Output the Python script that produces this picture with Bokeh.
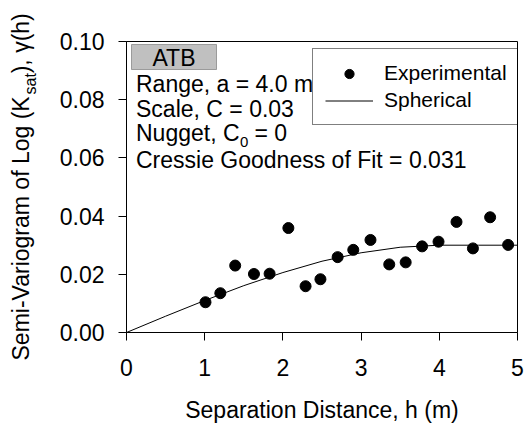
import math
from bokeh.plotting import figure
from bokeh.layouts import row
from bokeh.models import Label, BoxAnnotation, FixedTicker, PrintfTickFormatter, Range1d
from bokeh.embed import file_html
from bokeh.resources import INLINE

# ---------------- data ----------------
h_exp = [1.01, 1.20, 1.39, 1.63, 1.83, 2.07, 2.29, 2.48, 2.70, 2.90,
         3.12, 3.36, 3.57, 3.78, 3.99, 4.22, 4.43, 4.65, 4.88]
gamma_exp = [0.0104, 0.0135, 0.0230, 0.0201, 0.0202, 0.0359, 0.0159, 0.0183, 0.0259, 0.0284,
             0.0318, 0.0234, 0.0241, 0.0296, 0.0312, 0.0380, 0.0289, 0.0396, 0.0301]
h_model = [0.0, 0.5, 1.0, 1.5, 2.0, 2.5, 3.0, 3.5, 4.0, 4.5, 5.0]
gamma_model = [0.0, 0.0056, 0.0110, 0.0161, 0.0206, 0.0245, 0.0274, 0.0293, 0.0300, 0.0300, 0.0300]
x_ticks = [0, 1, 2, 3, 4, 5]
y_ticks = [0.00, 0.02, 0.04, 0.06, 0.08, 0.10]

FONT = "Liberation Sans"
W, H = 527, 428
LW = 46                      # width of the strip holding the y title
FL, FR, FT, FB = 126, 517, 41, 332
X0, X1, Y0, Y1 = 0.0, 5.0, 0.0, 0.10


def dx(px):
    return X0 + (px - FL) / (FR - FL) * (X1 - X0)


def dy(py):
    return Y0 + (FB - py) / (FB - FT) * (Y1 - Y0)


p = figure(width=W - LW, height=H, x_range=(X0, X1), y_range=(Y0, Y1),
           output_backend="svg", toolbar_location=None,
           min_border_left=FL - LW, min_border_right=W - FR,
           min_border_top=FT, min_border_bottom=H - FB)
p.background_fill_color = "white"
p.border_fill_color = "white"
p.outline_line_color = "black"
p.outline_line_width = 1
p.xgrid.visible = False
p.ygrid.visible = False

for ax in (p.xaxis[0], p.yaxis[0]):
    ax.axis_line_color = "black"
    ax.major_tick_line_color = "black"
    ax.major_tick_out = 8
    ax.major_tick_in = 0
    ax.minor_tick_line_color = None
    ax.major_label_text_font = FONT
    ax.major_label_text_font_size = "23px"
    ax.major_label_text_color = "black"
    ax.major_label_standoff = 14

p.xaxis[0].major_label_standoff = 18
p.xaxis[0].ticker = FixedTicker(ticks=x_ticks)
p.yaxis[0].ticker = FixedTicker(ticks=y_ticks)
p.yaxis[0].formatter = PrintfTickFormatter(format="%.2f")

p.xaxis[0].axis_label = "Separation Distance, h (m)"
p.xaxis[0].axis_label_text_font = FONT
p.xaxis[0].axis_label_text_font_size = "23px"
p.xaxis[0].axis_label_text_font_style = "normal"
p.xaxis[0].axis_label_text_color = "black"
p.xaxis[0].axis_label_standoff = 18

# data
p.line(h_model, gamma_model, line_color="black", line_width=1, legend_label="Spherical")
p.scatter(h_exp, gamma_exp, size=11, fill_color="black", line_color="black",
          legend_label="Experimental")

leg = p.legend[0]
leg.items = [leg.items[1], leg.items[0]]
leg.location = (312 - FL, FB - 125)
leg.margin = 0
leg.padding = 12
leg.spacing = 3
leg.glyph_width = 48
leg.glyph_height = 23
leg.label_height = 23
leg.label_standoff = 11
leg.label_text_font = FONT
leg.label_text_font_size = "21px"
leg.label_text_color = "black"
leg.border_line_color = "black"
leg.border_line_width = 1
leg.background_fill_alpha = 1.0

# ATB box
p.add_layout(BoxAnnotation(left=dx(131), right=dx(216), top=dy(44), bottom=dy(69),
                           fill_color="#c0c0c0", fill_alpha=1.0,
                           line_color="black", line_width=1))


def lab(fig, x, y, text, size="23px", align="left", angle=0.0):
    fig.add_layout(Label(x=x, y=y, text=text, text_font=FONT,
                         text_font_size=size, text_color="black",
                         text_align=align, text_baseline="middle", angle=angle))


lab(p, dx(173.5), dy(57), "ATB", align="center")
lab(p, dx(135.5), dy(83), "Range, a = 4.0 m")
lab(p, dx(135.5), dy(108), "Scale, C = 0.03")
lab(p, dx(135.5), dy(132), "Nugget, C")
lab(p, dx(239.5), dy(141), "0", size="15px")
lab(p, dx(254.0), dy(132), "= 0")
lab(p, dx(135.5), dy(159), "Cressie Goodness of Fit = 0.031")

# y title strip (pixel coordinates, y downward)
t = figure(width=LW, height=H, x_range=Range1d(0, LW), y_range=Range1d(H, 0),
           output_backend="svg", toolbar_location=None, title=None,
           min_border_left=0, min_border_right=0, min_border_top=0, min_border_bottom=0,
           x_axis_location=None, y_axis_location=None)
t.frame_align = False
t.outline_line_color = None
t.xgrid.visible = False
t.ygrid.visible = False
t.background_fill_color = "white"
t.border_fill_color = "white"

ang = math.pi / 2
lab(t, 20, 360, "Semi-Variogram of Log (K", angle=ang)
lab(t, 30, 94, "sat", size="16px", angle=ang)
lab(t, 20, 72.8, "), \u03b3(h)", angle=ang)

layout = row(t, p, spacing=0)
open("out.html", "w").write(file_html(layout, INLINE))
